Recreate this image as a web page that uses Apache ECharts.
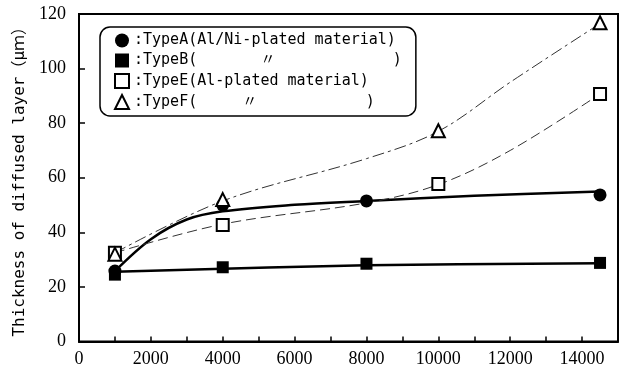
<!DOCTYPE html>
<html>
<head>
<meta charset="utf-8">
<script src="https://cdn.jsdelivr.net/npm/echarts@6/dist/echarts.min.js"></script>
<style>
  html, body { margin: 0; padding: 0; background: #fff; }
  #chart { width: 621px; height: 375px; }
</style>
</head>
<body>
<div id="chart"></div>
<script>
// measured points
var xAB = [1000, 4000, 8000, 14500];
var typeA = [25.8, 50, 51.5, 53.7];
var typeB = [24.5, 27.2, 28.5, 28.8];
var xEF = [1000, 4000, 10000, 14500];
var typeE = [32.5, 42.7, 57.7, 90.7];
var typeF = [32, 52, 77.2, 116.8];

// fitted curves
var fitXA = [1000, 2000, 3000, 4000, 6000, 8000, 11000, 14500];
var fitA = [25.8, 37.5, 44.7, 47.7, 50.1, 51.5, 53.4, 55];
var fitXB = [1000, 8000, 14500];
var fitB = [25.6, 27.9, 28.7];
var fitXE = [1000, 4000, 8000, 10000, 12000, 14500];
var fitE = [32.5, 43, 50.8, 57.5, 70, 90.7];
var fitXF = [1000, 4000, 8000, 10000, 12000, 14500];
var fitF = [32.5, 51.5, 67, 77, 95, 116.5];

var legendNames = ['TypeA', 'TypeB', 'TypeE', 'TypeF'];
var legendText = {
  TypeA: ':TypeA(Al/Ni-plated material)',
  TypeB: ':TypeB(       〃             )',
  TypeE: ':TypeE(Al-plated material)',
  TypeF: ':TypeF(     〃            )'
};

function pairs(xs, ys) {
  return xs.map(function (x, i) { return [x, ys[i]]; });
}

var myChart = echarts.init(document.getElementById('chart'));
var serif = 'Liberation Serif, DejaVu Serif, serif';
var mono = 'DejaVu Sans Mono, Noto Sans CJK JP, monospace';

var option = {
  backgroundColor: '#fff',
  animation: false,
  grid: {
    left: 79, top: 14, right: -4, bottom: 33.5,
    show: true, borderColor: '#000', borderWidth: 2
  },
  legend: {
    orient: 'vertical',
    left: 100, top: 27,
    itemWidth: 14, itemHeight: 14, itemGap: 5,
    padding: [6, 14, 6, 14],
    borderColor: '#000', borderWidth: 1.5, borderRadius: 10,
    textStyle: { fontFamily: mono, fontSize: 15, color: '#000', lineHeight: 14 },
    formatter: function (name) { return legendText[name]; },
    data: legendNames
  },
  xAxis: {
    type: 'value',
    min: 0, max: 15000, interval: 1000,
    axisLine: { lineStyle: { color: '#000', width: 2 } },
    axisTick: { inside: true, length: 5, lineStyle: { color: '#000', width: 1.5 } },
    axisLabel: {
      fontFamily: serif, fontSize: 18, color: '#000', margin: 9,
      formatter: function (v) { return v % 2000 === 0 ? String(v) : ''; }
    },
    splitLine: { show: false }
  },
  yAxis: {
    type: 'value',
    min: 0, max: 120, interval: 20,
    name: 'Thickness of diffused layer（μｍ）',
    nameLocation: 'middle',
    nameGap: 50,
    nameTextStyle: { fontFamily: mono, fontSize: 16, color: '#000' },
    axisLine: { lineStyle: { color: '#000', width: 2 } },
    axisTick: { inside: true, length: 6, lineStyle: { color: '#000', width: 1.5 } },
    axisLabel: { fontFamily: serif, fontSize: 18, color: '#000', margin: 13 },
    splitLine: { show: false }
  },
  series: [
    {
      name: 'fitA', type: 'line', data: pairs(fitXA, fitA), showSymbol: false,
      smooth: 0.35, z: 2,
      lineStyle: { color: '#000', width: 2.5 }
    },
    {
      name: 'fitB', type: 'line', data: pairs(fitXB, fitB), showSymbol: false,
      smooth: 0.35, z: 2,
      lineStyle: { color: '#000', width: 2.5 }
    },
    {
      name: 'fitE', type: 'line', data: pairs(fitXE, fitE), showSymbol: false,
      smooth: 0.35, z: 2,
      lineStyle: { color: '#333', width: 1, type: [10, 5] }
    },
    {
      name: 'fitF', type: 'line', data: pairs(fitXF, fitF), showSymbol: false,
      smooth: 0.35, z: 2,
      lineStyle: { color: '#333', width: 1, type: [12, 4, 3, 4] }
    },
    {
      name: 'TypeA', type: 'scatter', data: pairs(xAB, typeA), z: 5,
      symbol: 'circle', symbolSize: 13,
      itemStyle: { color: '#000', opacity: 1 }
    },
    {
      name: 'TypeB', type: 'scatter', data: pairs(xAB, typeB), z: 5,
      symbol: 'rect', symbolSize: 12,
      itemStyle: { color: '#000', opacity: 1 }
    },
    {
      name: 'TypeE', type: 'scatter', data: pairs(xEF, typeE), z: 6,
      symbol: 'rect', symbolSize: 12,
      itemStyle: { color: '#fff', borderColor: '#000', borderWidth: 2, opacity: 1 }
    },
    {
      name: 'TypeF', type: 'scatter', data: pairs(xEF, typeF), z: 7,
      symbol: 'triangle', symbolSize: 13,
      itemStyle: { color: '#fff', borderColor: '#000', borderWidth: 2, opacity: 1 }
    }
  ]
};

myChart.setOption(option);
</script>
</body>
</html>
